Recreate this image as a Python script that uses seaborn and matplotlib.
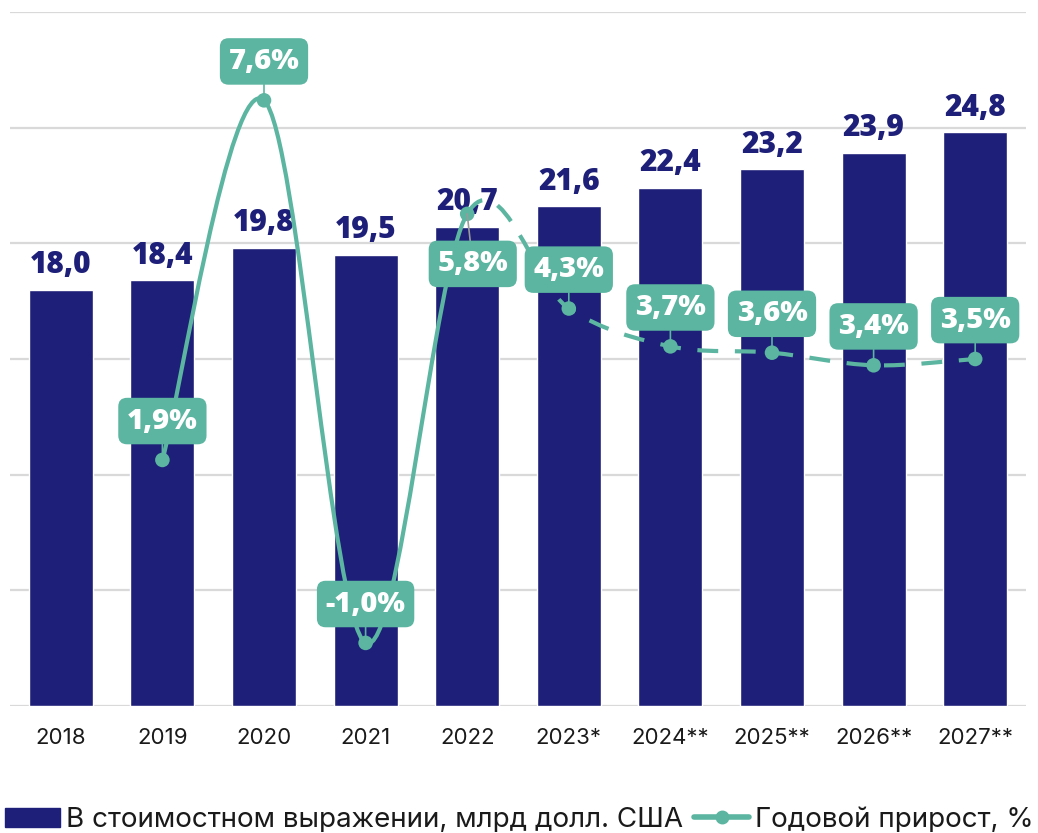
import numpy as np
import matplotlib
matplotlib.use('Agg')
import matplotlib.pyplot as plt
import seaborn as sns
from matplotlib.path import Path
from matplotlib.patches import PathPatch, Patch
from matplotlib.lines import Line2D

# data
years = ['2018', '2019', '2020', '2021', '2022', '2023*', '2024**', '2025**', '2026**', '2027**']
value_bn = [18.0, 18.4, 19.8, 19.5, 20.7, 21.6, 22.4, 23.2, 23.9, 24.8]
growth_years = years[1:]
growth_pct = [1.9, 7.6, -1.0, 5.8, 4.3, 3.7, 3.6, 3.4, 3.5]

navy = '#1d1f78'
teal = '#5bb5a0'
bold_font = ['Open Sans', 'DejaVu Sans']

sns.set_theme(style='white')
plt.rcParams['font.family'] = ['Inter', 'DejaVu Sans']

fig = plt.figure(figsize=(10.38, 8.33), dpi=100)
ax = fig.add_axes([10 / 1038, 1 - 706 / 833, 1016 / 1038, 694 / 833])

sns.barplot(x=years, y=value_bn, color=navy, saturation=1, width=0.63, ax=ax)
ax.set_ylim(0, 30)
ax.set_xlim(-0.5, 9.5)
ax.set_yticks(range(0, 31, 5))
ax.set_yticklabels([])
ax.set_axisbelow(True)
ax.grid(axis='y', color='#d9d9d9', lw=1.6)
ax.tick_params(axis='both', length=0)
ax.tick_params(axis='x', pad=16, labelsize=16, labelcolor='#1a1a1a')
ax.set_xlabel('')
ax.set_ylabel('')
for s in ax.spines.values():
    s.set_visible(False)

ax.bar_label(ax.containers[0], labels=[f'{v:.1f}'.replace('.', ',') for v in value_bn],
             padding=7, fontsize=21.5, fontweight='heavy', family=bold_font, color=navy)

# growth line on secondary axis
ax2 = ax.twinx()
ax2.set_ylim(-2, 9)
ax2.set_yticks([])
for s in ax2.spines.values():
    s.set_visible(False)

gx = np.array([years.index(y) for y in growth_years], dtype=float)
gy = np.array(growth_pct)


def smooth_path(xs, ys, i0, i1):
    # catmull-rom style bezier through the points, like a "smoothed line"
    n = len(xs)
    verts = [(xs[i0], ys[i0])]
    codes = [Path.MOVETO]
    for i in range(i0, i1):
        a = max(i - 1, 0)
        b = min(i + 2, n - 1)
        c1 = (xs[i] + (xs[i + 1] - xs[a]) / 6, ys[i] + (ys[i + 1] - ys[a]) / 6)
        c2 = (xs[i + 1] - (xs[b] - xs[i]) / 6, ys[i + 1] - (ys[b] - ys[i]) / 6)
        verts += [c1, c2, (xs[i + 1], ys[i + 1])]
        codes += [Path.CURVE4] * 3
    return Path(verts, codes)


split = growth_years.index('2022')
ax2.add_patch(PathPatch(smooth_path(gx, gy, 0, split), fc='none', ec=teal, lw=3, zorder=3))
ax2.add_patch(PathPatch(smooth_path(gx, gy, split, len(gx) - 1), fc='none', ec=teal, lw=3,
                        ls=(0, (5, 4)), zorder=3))
sns.scatterplot(x=gx, y=gy, ax=ax2, color=teal, s=110, edgecolor='none', zorder=4, legend=False)

for x, y in zip(gx, gy):
    off = (4, -36) if growth_years[int(x) - 1] == '2022' else (0, 28)
    ax2.annotate(f'{y:.1f}%'.replace('.', ','), xy=(x, y), xytext=off, textcoords='offset points',
                 ha='center', va='center', fontsize=21, fontweight='heavy', family=bold_font,
                 color='white',
                 bbox=dict(boxstyle='round,pad=0.3,rounding_size=0.3', fc=teal, ec='none'),
                 arrowprops=dict(arrowstyle='-', color='#9a9a9a' if off[1] < 0 else teal, lw=1.2,
                                 shrinkA=0, shrinkB=0),
                 zorder=5)

handles = [Patch(color=navy), Line2D([], [], color=teal, lw=4, marker='o', ms=9)]
labels = ['В стоимостном выражении, млрд долл. США', 'Годовой прирост, %']
fig.legend(handles, labels, loc='lower center', bbox_to_anchor=(0.5, -0.03), ncol=2,
           frameon=False, fontsize=20, handlelength=2.0, handletextpad=0.2, columnspacing=0.4,
           labelcolor='#1a1a1a')

fig.savefig('out.png', dpi=100)
